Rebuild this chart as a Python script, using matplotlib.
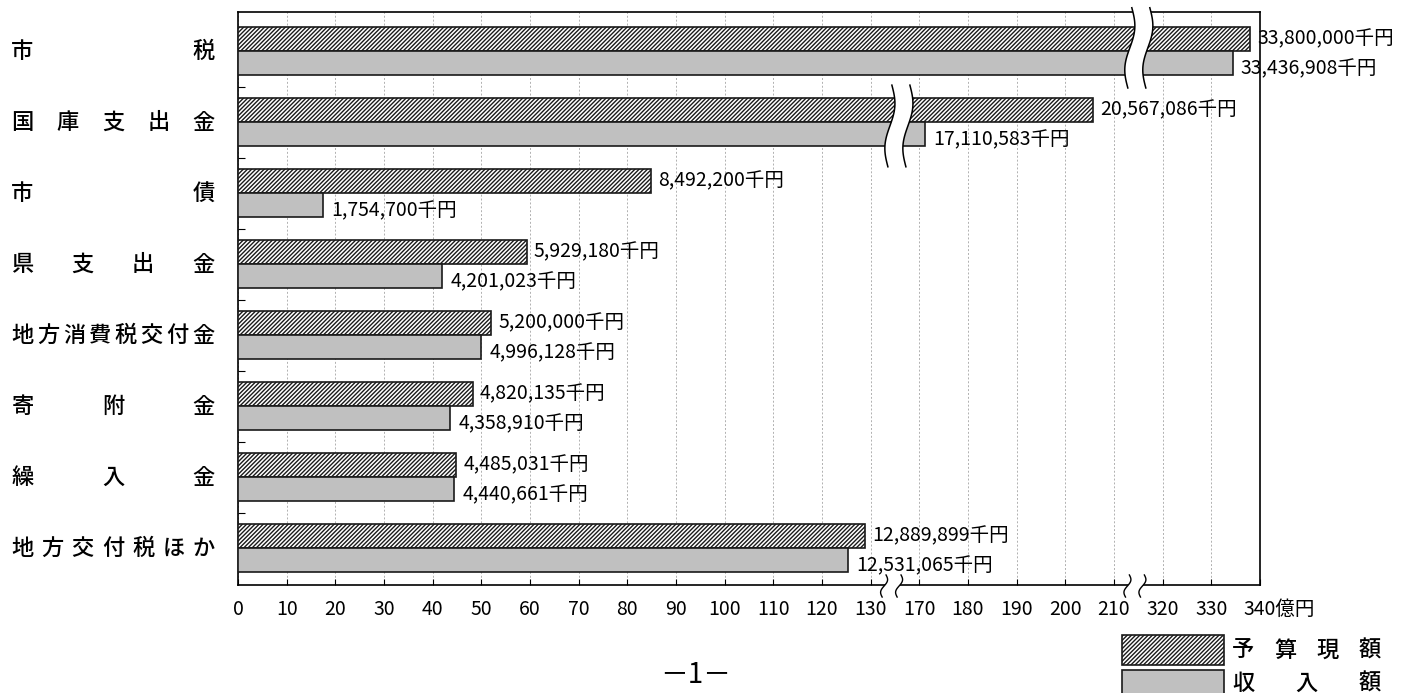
import matplotlib
matplotlib.use('Agg')
import matplotlib.pyplot as plt
import matplotlib.transforms as mtransforms
from matplotlib.patches import Polygon, Rectangle
import numpy as np

plt.rcParams['font.family'] = ['Noto Sans CJK JP', 'DejaVu Sans']
plt.rcParams['hatch.linewidth'] = 1.0

# 単位：千円
categories = ['市税', '国庫支出金', '市債', '県支出金', '地方消費税交付金', '寄附金', '繰入金', '地方交付税ほか']
budget = [33800000, 20567086, 8492200, 5929180, 5200000, 4820135, 4485031, 12889899]
revenue = [33436908, 17110583, 1754700, 4201023, 4996128, 4358910, 4440661, 12531065]

# x axis (億円), broken at 130-170 and 210-320
tick_values = [0, 10, 20, 30, 40, 50, 60, 70, 80, 90, 100, 110, 120, 130,
               170, 180, 190, 200, 210, 320, 330, 340]
segments = [(0, 130), (170, 210), (320, 340)]
legend_labels = ['予算現額', '収入額']

HATCH = '////////'


def to_axis(oku):
    # map 億円 onto the compressed axis, one unit per 10億円
    start = 0
    for lo, hi in segments:
        if oku <= hi:
            return start + (max(oku, lo) - lo) / 10
        start += (hi - lo) / 10 + 1
    return start - 1


def wavy(xc, y0, y1, amp, slant, n=60):
    t = np.linspace(0, 1, n)
    x = xc + slant * (0.5 - t) + amp * np.sin(2 * np.pi * t)
    y = y0 + (y1 - y0) * t
    return x, y


def break_band(ax, xc, y0, y1, half, amp, slant, transform, lw=1.1):
    xl, y = wavy(xc - half, y0, y1, amp, slant)
    xr, _ = wavy(xc + half, y0, y1, amp, slant)
    pts = np.concatenate([np.column_stack([xl, y]), np.column_stack([xr, y])[::-1]])
    ax.add_patch(Polygon(pts, closed=True, facecolor='white', edgecolor='none',
                         transform=transform, clip_on=False, zorder=6))
    ax.plot(xl, y, color='black', lw=lw, transform=transform, clip_on=False, zorder=7)
    ax.plot(xr, y, color='black', lw=lw, transform=transform, clip_on=False, zorder=7)


W, H = 1424, 693
fig = plt.figure(figsize=(W / 100, H / 100), dpi=100)
ax = fig.add_axes([238 / W, 1 - 585 / H, (1260 - 238) / W, (585 - 12) / H])

y = np.arange(len(categories))
h = 0.335
b_pos = [to_axis(v / 100000) for v in budget]
r_pos = [to_axis(v / 100000) for v in revenue]

ax.barh(y - h / 2, b_pos, height=h, facecolor='white', edgecolor='#1a1a1a',
        hatch=HATCH, lw=1.2, zorder=3)
ax.barh(y + h / 2, r_pos, height=h, color='#c0c0c0', edgecolor='#1a1a1a',
        lw=1.2, zorder=3)

for i in range(len(categories)):
    ax.annotate(f'{budget[i]:,}千円', (b_pos[i], y[i] - h / 2), xytext=(5, 0.5),
                textcoords='offset points', va='center', ha='left', fontsize=14, zorder=8)
    ax.annotate(f'{revenue[i]:,}千円', (r_pos[i], y[i] + h / 2), xytext=(6, -4),
                textcoords='offset points', va='center', ha='left', fontsize=14, zorder=8)

ax.set_xlim(0, 21)
ax.set_ylim(7.52, -0.55)

ax.set_xticks([to_axis(v) for v in tick_values])
ax.set_xticklabels([str(v) for v in tick_values[:-1]] + [''], fontsize=14)
ax.tick_params(axis='x', direction='in', length=4, width=0.8, pad=10)
ax.annotate(f'{tick_values[-1]}億円', (21, 0), xycoords=ax.get_xaxis_transform(),
            xytext=(-12, -10), textcoords='offset points', ha='left', va='top', fontsize=14)

ax.set_yticks([])
ax.set_yticks(y[:-1] + 0.5, minor=True)
ax.tick_params(axis='y', which='minor', direction='in', length=5, width=0.8)
ax.tick_params(axis='y', which='major', left=False, labelleft=False)

ax.grid(axis='x', color='#b0b0b0', lw=0.7, ls=(0, (2, 2)))
ax.set_axisbelow(True)
for s in ax.spines.values():
    s.set_linewidth(1.2)

# break marks through the long bars
break_band(ax, 18.51, 0 - 0.61, 0 + 0.52, 0.185, 0.082, 0.082, ax.transData)
break_band(ax, 13.58, 1 - 0.52, 1 + 0.63, 0.185, 0.082, 0.082, ax.transData)
# break marks on the x axis
xt = ax.get_xaxis_transform()
break_band(ax, 13.43, 0.0175, -0.021, 0.154, 0.05, 0.08, xt, lw=1.0)
break_band(ax, 18.43, 0.0175, -0.021, 0.154, 0.05, 0.08, xt, lw=1.0)

# category names spread over a fixed width
lab_tr = mtransforms.blended_transform_factory(fig.transFigure, ax.transData)
for i, name in enumerate(categories):
    xs = np.linspace(22.5, 203.5, len(name))
    for cx, ch in zip(xs, name):
        ax.text(cx / W, y[i], ch, transform=lab_tr, ha='center', va='center',
                fontsize=16, fontweight='medium', clip_on=False)

# legend
fig.add_artist(Rectangle((1122 / W, 1 - 665 / H), 102 / W, 30 / H, transform=fig.transFigure,
                         facecolor='white', edgecolor='#1a1a1a', hatch=HATCH, lw=1.2))
fig.add_artist(Rectangle((1122 / W, 1 - 700 / H), 102 / W, 30 / H, transform=fig.transFigure,
                         facecolor='#c0c0c0', edgecolor='#1a1a1a', lw=1.2))
for name, cy in zip(legend_labels, [650, 683]):
    xs = np.linspace(1243, 1370, len(name))
    for cx, ch in zip(xs, name):
        fig.text(cx / W, 1 - cy / H, ch, ha='center', va='center', fontsize=16,
                 fontweight='medium')

fig.text(696 / W, 1 - 675 / H, '－1－', ha='center', va='center', fontsize=20)

fig.savefig('out.png', dpi=100)
